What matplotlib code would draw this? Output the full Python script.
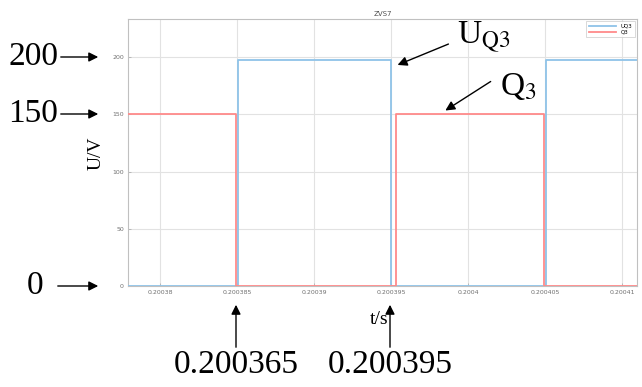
"""ZVS7 waveform: UQ3 drain voltage vs Q3 gate signal, with annotations."""

import matplotlib

matplotlib.use("Agg")
import matplotlib.pyplot as plt

# Data
uq3_t = [0.200377, 0.20038505, 0.20038505, 0.20039500, 0.20039500, 0.20040507, 0.20040507, 0.200412]
uq3_v = [0, 0, 197.5, 197.5, 0, 0, 197.5, 197.5]
q3_t = [0.200377, 0.20038494, 0.20038494, 0.20039530, 0.20039530, 0.20040495, 0.20040495, 0.200412]
q3_v = [150, 150, 0, 0, 150, 150, 0, 0]

xticks = [0.20038, 0.200385, 0.20039, 0.200395, 0.2004, 0.200405, 0.20041]
xtick_labels = ["0.20038", "0.200385", "0.20039", "0.200395", "0.2004", "0.200405", "0.20041"]
yticks = [0, 50, 100, 150, 200]

W, H = 642, 387
SERIF = "Liberation Serif"


def main():
    fig = plt.figure(figsize=(W / 100, H / 100), dpi=100)
    ax = fig.add_axes([128 / W, 1 - 286 / H, (637 - 128) / W, (286 - 19) / H])

    ax.plot(uq3_t, uq3_v, color="#8fc3e8", lw=1.3, label="UQ3", zorder=3)
    ax.plot(q3_t, q3_v, color="#ff8a8a", lw=1.3, label="Q3", zorder=3)

    ax.set_xlim(0.20037792, 0.20041097)
    ax.set_ylim(0, 233.5)
    ax.set_xticks(xticks)
    ax.set_xticklabels(xtick_labels)
    ax.set_yticks(yticks)
    ax.tick_params(direction="in", length=2, width=0.6, colors="#b0b0b0",
                   labelsize=4.5, labelcolor="#707070", pad=3)
    ax.grid(True, color="#e2e2e2", lw=0.8)
    ax.set_axisbelow(True)
    for s in ax.spines.values():
        s.set_color("#c0c0c0")
        s.set_linewidth(0.8)

    ax.set_title("ZVS7", fontsize=5, color="#505050", pad=2)
    leg = ax.legend(loc="upper right", fontsize=4, frameon=True, fancybox=False,
                    handlelength=5, borderpad=0.5, labelspacing=0.2,
                    borderaxespad=0.3)
    leg.get_frame().set_edgecolor("#c8c8c8")
    leg.get_frame().set_linewidth(0.6)

    # axis labels placed like the annotated figure
    fig.text(96 / W, 1 - 153 / H, "U/V", rotation=90, fontsize=14, family=SERIF,
             ha="center", va="center")
    fig.text(379 / W, 1 - 319 / H, "t/s", fontsize=14, family=SERIF,
             ha="center", va="center")

    arrow = dict(arrowstyle="-|>", color="black", lw=1.0, mutation_scale=14)

    def fp(x, y):
        return (x, H - y)

    # y-value callouts
    for label, tx, ty, x0 in [("200", 33, 57, 58), ("150", 33, 114, 58), ("0", 35, 286, 55)]:
        fig.text(tx / W, 1 - ty / H, label, fontsize=24, family=SERIF,
                 ha="center", va="center")
        ax.annotate("", xy=fp(101, ty), xycoords="figure pixels",
                    xytext=fp(x0, ty), textcoords="figure pixels", arrowprops=arrow)

    # time callouts
    for label, x in [("0.200365", 236), ("0.200395", 390)]:
        fig.text(x / W, 1 - 365 / H, label, fontsize=24, family=SERIF,
                 ha="center", va="center")
        ax.annotate("", xy=fp(x, 302), xycoords="figure pixels",
                    xytext=fp(x, 350), textcoords="figure pixels", arrowprops=arrow)

    # trace callouts
    fig.text(457 / W, 1 - 37 / H, r"U$_{\mathrm{Q3}}$", fontsize=24, family=SERIF,
             ha="left", va="center", math_fontfamily="stix")
    ax.annotate("", xy=fp(395, 66), xycoords="figure pixels",
                xytext=fp(451, 43), textcoords="figure pixels", arrowprops=arrow)
    fig.text(500 / W, 1 - 86 / H, r"Q$_{\mathrm{3}}$", fontsize=24, family=SERIF,
             ha="left", va="center", math_fontfamily="stix")
    ax.annotate("", xy=fp(443, 112), xycoords="figure pixels",
                xytext=fp(493, 80), textcoords="figure pixels", arrowprops=arrow)

    fig.savefig("out.png", dpi=100)


if __name__ == "__main__":
    main()
